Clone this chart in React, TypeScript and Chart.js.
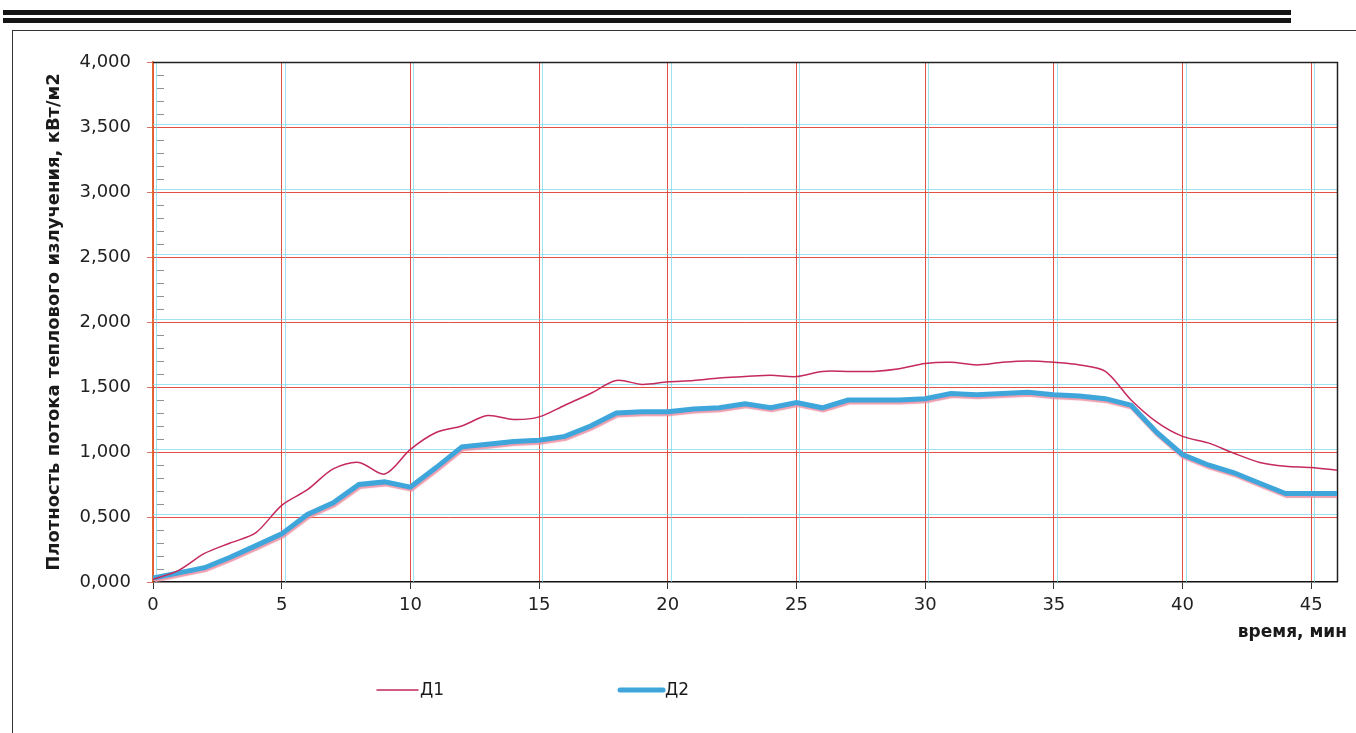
import React, { useEffect, useRef } from "react";
import { Chart, registerables } from "chart.js";

Chart.register(...registerables);

// ---- data ----
const times: number[] = [
  0, 1, 2, 3, 4, 5, 6, 7, 8, 9, 10, 11, 12, 13, 14, 15, 16, 17, 18, 19, 20, 21, 22, 23,
  24, 25, 26, 27, 28, 29, 30, 31, 32, 33, 34, 35, 36, 37, 38, 39, 40, 41, 42, 43, 44, 45, 46,
];
const d1Values: number[] = [
  0.02, 0.09, 0.22, 0.3, 0.38, 0.59, 0.71, 0.87, 0.92, 0.83, 1.02, 1.15, 1.2, 1.28, 1.25, 1.27,
  1.36, 1.45, 1.55, 1.52, 1.54, 1.55, 1.57, 1.58, 1.59, 1.58, 1.62, 1.62, 1.62, 1.64, 1.68, 1.69,
  1.67, 1.69, 1.7, 1.69, 1.67, 1.62, 1.4, 1.23, 1.12, 1.07, 0.99, 0.92, 0.89, 0.88, 0.86,
];
const d2Values: number[] = [
  0.03, 0.07, 0.11, 0.19, 0.28, 0.37, 0.52, 0.61, 0.75, 0.77, 0.73, 0.88, 1.04, 1.06, 1.08, 1.09,
  1.12, 1.2, 1.3, 1.31, 1.31, 1.33, 1.34, 1.37, 1.34, 1.38, 1.34, 1.4, 1.4, 1.4, 1.41, 1.45,
  1.44, 1.45, 1.46, 1.44, 1.43, 1.41, 1.36, 1.15, 0.98, 0.9, 0.84, 0.76, 0.68, 0.68, 0.68,
];
const seriesNames: string[] = ["Д1", "Д2"];
const xTicks: number[] = [0, 5, 10, 15, 20, 25, 30, 35, 40, 45];
const yTicks: number[] = [0, 0.5, 1, 1.5, 2, 2.5, 3, 3.5, 4];
const yTitle = "Плотность потока теплового излучения, кВт/м2";
const xTitle = "время, мин";

const FONT = "'DejaVu Sans', 'Liberation Sans', sans-serif";
const GRID_RED = "rgba(226,72,58,0.95)";
const GHOST_CYAN = "rgba(120,215,235,0.7)";

const decorPlugin = {
  id: "decor",
  beforeDatasetsDraw(chart: any) {
    const { ctx, chartArea, scales } = chart;
    const { left, right, top, bottom } = chartArea;
    ctx.save();
    // cyan ghost lines next to the grid
    ctx.strokeStyle = GHOST_CYAN;
    ctx.lineWidth = 1;
    scales.x.ticks.forEach((t: any) => {
      const px = Math.round(scales.x.getPixelForValue(t.value)) + 3.5;
      ctx.beginPath();
      ctx.moveTo(px, top);
      ctx.lineTo(px, bottom);
      ctx.stroke();
    });
    scales.y.ticks.forEach((t: any) => {
      if (t.value === 0 || t.value === 4) return;
      const py = Math.round(scales.y.getPixelForValue(t.value)) - 2.5;
      ctx.beginPath();
      ctx.moveTo(left, py);
      ctx.lineTo(right, py);
      ctx.stroke();
    });
    // minor ticks on y axis
    ctx.strokeStyle = "rgba(110,110,110,0.75)";
    for (let i = 1; i < 40; i++) {
      if (i % 5 === 0) continue;
      const py = Math.round(scales.y.getPixelForValue(i / 10)) + 0.5;
      ctx.beginPath();
      ctx.moveTo(left + 4, py);
      ctx.lineTo(left + 11, py);
      ctx.stroke();
    }
    // plot frame: top and right
    ctx.strokeStyle = "#222";
    ctx.lineWidth = 1.5;
    ctx.beginPath();
    ctx.moveTo(left, top + 0.5);
    ctx.lineTo(right + 0.5, top + 0.5);
    ctx.lineTo(right + 0.5, bottom);
    ctx.stroke();
    ctx.restore();
  },
  beforeDatasetDraw(chart: any, args: any) {
    if (args.index === 1) {
      const ctx = chart.ctx;
      ctx.save();
      ctx.shadowColor = "rgba(235,140,160,0.85)";
      ctx.shadowOffsetY = 2;
      ctx.shadowOffsetX = 1;
      ctx.shadowBlur = 1;
    }
  },
  afterDatasetDraw(chart: any, args: any) {
    if (args.index === 1) chart.ctx.restore();
  },
  afterDraw(chart: any) {
    const { ctx } = chart;
    ctx.save();
    // x axis title
    ctx.font = `bold 17px ${FONT}`;
    ctx.fillStyle = "#1a1a1a";
    ctx.textAlign = "right";
    ctx.textBaseline = "middle";
    ctx.fillText(xTitle, 1334, 602);
    // legend
    const items = [
      { x0: 364, x1: 405, tx: 407 },
      { x0: 607, x1: 650, tx: 652 },
    ];
    chart.data.datasets.forEach((ds: any, i: number) => {
      const it = items[i];
      ctx.strokeStyle = ds.borderColor;
      ctx.lineWidth = ds.borderWidth;
      ctx.lineCap = "round";
      ctx.beginPath();
      ctx.moveTo(it.x0, 659);
      ctx.lineTo(it.x1, 659);
      ctx.stroke();
      ctx.font = `17px ${FONT}`;
      ctx.fillStyle = "#1a1a1a";
      ctx.textAlign = "left";
      ctx.textBaseline = "middle";
      ctx.fillText(ds.label, it.tx, 660);
    });
    ctx.restore();
  },
};

export default function App() {
  const ref = useRef<HTMLCanvasElement | null>(null);

  useEffect(() => {
    if (!ref.current) return;
    Chart.defaults.font.family = FONT;
    const chart = new Chart(ref.current, {
      type: "line",
      data: {
        datasets: [
          {
            label: seriesNames[0],
            data: times.map((t, i) => ({ x: t, y: d1Values[i] })),
            borderColor: "#c42a5c",
            borderWidth: 1.5,
            pointRadius: 0,
            tension: 0.3,
            fill: false,
          },
          {
            label: seriesNames[1],
            data: times.map((t, i) => ({ x: t, y: d2Values[i] })),
            borderColor: "#3ea6da",
            borderWidth: 5,
            pointRadius: 0,
            tension: 0,
            fill: false,
          },
        ],
      },
      options: {
        animation: false,
        responsive: false,
        maintainAspectRatio: false,
        layout: { padding: { left: 0, right: 19, top: 31, bottom: 111 } },
        plugins: {
          legend: { display: false },
          tooltip: { enabled: false },
        },
        scales: {
          x: {
            type: "linear",
            min: 0,
            max: 46,
            afterBuildTicks: (scale: any) => {
              scale.ticks = xTicks.map((v) => ({ value: v }));
            },
            afterFit: (scale: any) => {
              scale.height = 40;
            },
            ticks: {
              color: "#222",
              font: { size: 18, family: FONT },
              padding: 6,
              maxRotation: 0,
              autoSkip: false,
              callback: (v: any) => String(v),
            },
            grid: {
              color: GRID_RED,
              lineWidth: 1,
              tickLength: 7,
              tickColor: "#333",
            },
            border: { color: "#111", width: 1.5 },
          },
          y: {
            type: "linear",
            min: 0,
            max: 4,
            afterBuildTicks: (scale: any) => {
              scale.ticks = yTicks.map((v) => ({ value: v }));
            },
            afterFit: (scale: any) => {
              scale.width = 140;
            },
            ticks: {
              color: "#222",
              font: { size: 18, family: FONT },
              padding: 16,
              autoSkip: false,
              callback: (v: any) => Number(v).toFixed(3).replace(".", ","),
            },
            grid: {
              color: (c: any) => (c.tick && (c.tick.value === 4 || c.tick.value === 0) ? "rgba(0,0,0,0)" : GRID_RED),
              lineWidth: 1,
              tickLength: 6,
              tickColor: "rgba(200,80,60,0.8)",
            },
            border: { color: "rgba(226,100,40,0.95)", width: 1.5 },
            title: {
              display: true,
              text: yTitle,
              color: "#1a1a1a",
              font: { size: 18, weight: "bold", family: FONT },
              padding: { top: 31, bottom: 0 },
            },
          },
        },
      },
      plugins: [decorPlugin],
    });
    return () => chart.destroy();
  }, []);

  return (
    <div
      style={{
        position: "absolute",
        left: 0,
        top: 0,
        width: 1356,
        height: 733,
        background: "#fff",
        overflow: "hidden",
      }}
    >
      <div style={{ position: "absolute", left: 3, top: 10, width: 1288, height: 5, background: "#151515" }} />
      <div style={{ position: "absolute", left: 3, top: 18, width: 1288, height: 5, background: "#151515" }} />
      <div
        style={{
          position: "absolute",
          left: 12,
          top: 30,
          width: 1360,
          height: 720,
          borderTop: "1px solid #333",
          borderLeft: "1px solid #333",
        }}
      />
      <div style={{ position: "absolute", left: 13, top: 31, width: 1343, height: 702 }}>
        <canvas ref={ref} width={1343} height={702} style={{ display: "block" }} />
      </div>
    </div>
  );
}
